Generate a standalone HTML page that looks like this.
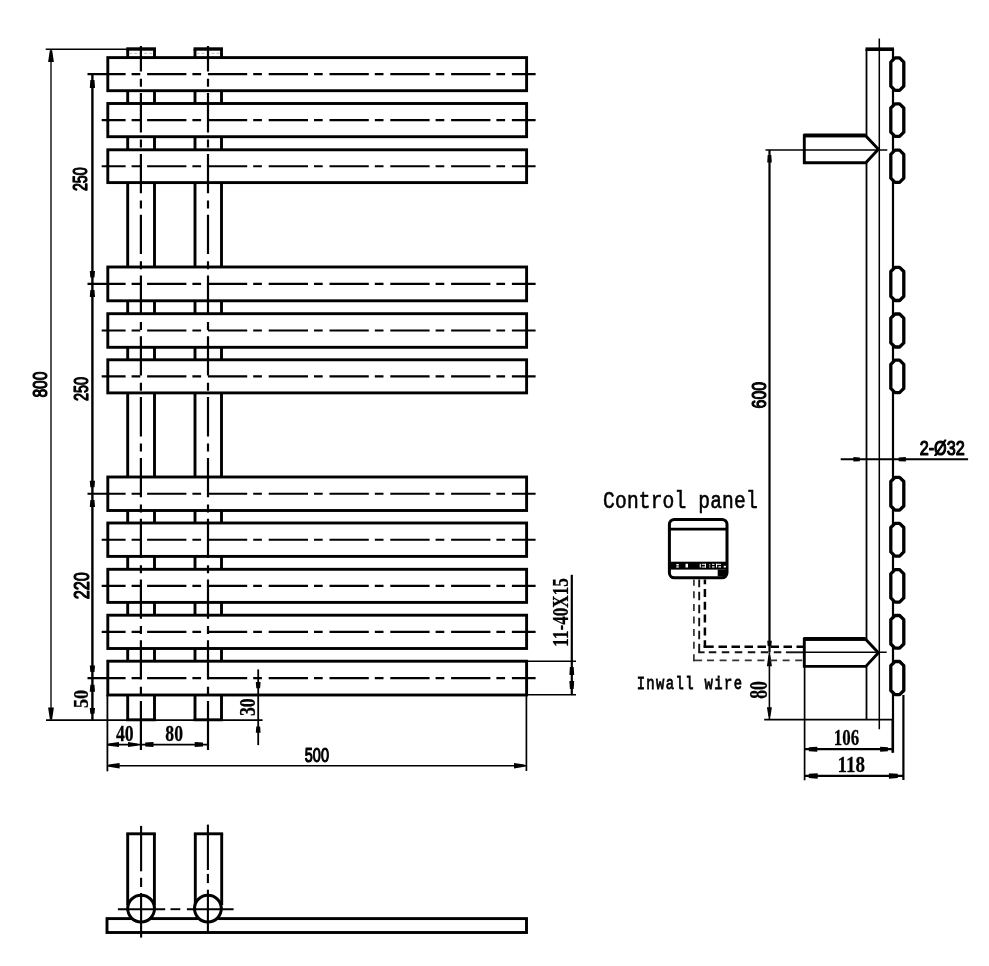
<!DOCTYPE html>
<html><head><meta charset="utf-8"><style>
html,body{margin:0;padding:0;background:#fff;}
svg{display:block;will-change:transform;}
</style></head><body>
<svg width="989" height="966" viewBox="0 0 989 966">
<rect width="989" height="966" fill="#fff"/>
<line x1="127.70" y1="49.00" x2="127.70" y2="57.60" stroke="#000" stroke-width="2.9" stroke-linecap="butt"/>
<line x1="154.50" y1="49.00" x2="154.50" y2="57.60" stroke="#000" stroke-width="2.9" stroke-linecap="butt"/>
<line x1="127.70" y1="90.70" x2="127.70" y2="103.50" stroke="#000" stroke-width="2.9" stroke-linecap="butt"/>
<line x1="154.50" y1="90.70" x2="154.50" y2="103.50" stroke="#000" stroke-width="2.9" stroke-linecap="butt"/>
<line x1="127.70" y1="136.70" x2="127.70" y2="149.80" stroke="#000" stroke-width="2.9" stroke-linecap="butt"/>
<line x1="154.50" y1="136.70" x2="154.50" y2="149.80" stroke="#000" stroke-width="2.9" stroke-linecap="butt"/>
<line x1="127.70" y1="182.60" x2="127.70" y2="267.00" stroke="#000" stroke-width="2.9" stroke-linecap="butt"/>
<line x1="154.50" y1="182.60" x2="154.50" y2="267.00" stroke="#000" stroke-width="2.9" stroke-linecap="butt"/>
<line x1="127.70" y1="300.80" x2="127.70" y2="313.70" stroke="#000" stroke-width="2.9" stroke-linecap="butt"/>
<line x1="154.50" y1="300.80" x2="154.50" y2="313.70" stroke="#000" stroke-width="2.9" stroke-linecap="butt"/>
<line x1="127.70" y1="347.30" x2="127.70" y2="359.80" stroke="#000" stroke-width="2.9" stroke-linecap="butt"/>
<line x1="154.50" y1="347.30" x2="154.50" y2="359.80" stroke="#000" stroke-width="2.9" stroke-linecap="butt"/>
<line x1="127.70" y1="392.90" x2="127.70" y2="477.00" stroke="#000" stroke-width="2.9" stroke-linecap="butt"/>
<line x1="154.50" y1="392.90" x2="154.50" y2="477.00" stroke="#000" stroke-width="2.9" stroke-linecap="butt"/>
<line x1="127.70" y1="510.50" x2="127.70" y2="523.00" stroke="#000" stroke-width="2.9" stroke-linecap="butt"/>
<line x1="154.50" y1="510.50" x2="154.50" y2="523.00" stroke="#000" stroke-width="2.9" stroke-linecap="butt"/>
<line x1="127.70" y1="556.40" x2="127.70" y2="569.30" stroke="#000" stroke-width="2.9" stroke-linecap="butt"/>
<line x1="154.50" y1="556.40" x2="154.50" y2="569.30" stroke="#000" stroke-width="2.9" stroke-linecap="butt"/>
<line x1="127.70" y1="602.40" x2="127.70" y2="615.20" stroke="#000" stroke-width="2.9" stroke-linecap="butt"/>
<line x1="154.50" y1="602.40" x2="154.50" y2="615.20" stroke="#000" stroke-width="2.9" stroke-linecap="butt"/>
<line x1="127.70" y1="648.50" x2="127.70" y2="661.20" stroke="#000" stroke-width="2.9" stroke-linecap="butt"/>
<line x1="154.50" y1="648.50" x2="154.50" y2="661.20" stroke="#000" stroke-width="2.9" stroke-linecap="butt"/>
<line x1="127.70" y1="695.00" x2="127.70" y2="719.80" stroke="#000" stroke-width="2.9" stroke-linecap="butt"/>
<line x1="154.50" y1="695.00" x2="154.50" y2="719.80" stroke="#000" stroke-width="2.9" stroke-linecap="butt"/>
<line x1="126.25" y1="49.00" x2="155.95" y2="49.00" stroke="#000" stroke-width="3.4" stroke-linecap="butt"/>
<line x1="129.20" y1="53.30" x2="153.00" y2="53.30" stroke="#bbb" stroke-width="1.0" stroke-linecap="butt" stroke-dasharray="3 2" stroke-dashoffset="0.00"/>
<line x1="126.25" y1="719.80" x2="155.95" y2="719.80" stroke="#000" stroke-width="2.9" stroke-linecap="butt"/>
<line x1="195.00" y1="49.00" x2="195.00" y2="57.60" stroke="#000" stroke-width="2.9" stroke-linecap="butt"/>
<line x1="221.50" y1="49.00" x2="221.50" y2="57.60" stroke="#000" stroke-width="2.9" stroke-linecap="butt"/>
<line x1="195.00" y1="90.70" x2="195.00" y2="103.50" stroke="#000" stroke-width="2.9" stroke-linecap="butt"/>
<line x1="221.50" y1="90.70" x2="221.50" y2="103.50" stroke="#000" stroke-width="2.9" stroke-linecap="butt"/>
<line x1="195.00" y1="136.70" x2="195.00" y2="149.80" stroke="#000" stroke-width="2.9" stroke-linecap="butt"/>
<line x1="221.50" y1="136.70" x2="221.50" y2="149.80" stroke="#000" stroke-width="2.9" stroke-linecap="butt"/>
<line x1="195.00" y1="182.60" x2="195.00" y2="267.00" stroke="#000" stroke-width="2.9" stroke-linecap="butt"/>
<line x1="221.50" y1="182.60" x2="221.50" y2="267.00" stroke="#000" stroke-width="2.9" stroke-linecap="butt"/>
<line x1="195.00" y1="300.80" x2="195.00" y2="313.70" stroke="#000" stroke-width="2.9" stroke-linecap="butt"/>
<line x1="221.50" y1="300.80" x2="221.50" y2="313.70" stroke="#000" stroke-width="2.9" stroke-linecap="butt"/>
<line x1="195.00" y1="347.30" x2="195.00" y2="359.80" stroke="#000" stroke-width="2.9" stroke-linecap="butt"/>
<line x1="221.50" y1="347.30" x2="221.50" y2="359.80" stroke="#000" stroke-width="2.9" stroke-linecap="butt"/>
<line x1="195.00" y1="392.90" x2="195.00" y2="477.00" stroke="#000" stroke-width="2.9" stroke-linecap="butt"/>
<line x1="221.50" y1="392.90" x2="221.50" y2="477.00" stroke="#000" stroke-width="2.9" stroke-linecap="butt"/>
<line x1="195.00" y1="510.50" x2="195.00" y2="523.00" stroke="#000" stroke-width="2.9" stroke-linecap="butt"/>
<line x1="221.50" y1="510.50" x2="221.50" y2="523.00" stroke="#000" stroke-width="2.9" stroke-linecap="butt"/>
<line x1="195.00" y1="556.40" x2="195.00" y2="569.30" stroke="#000" stroke-width="2.9" stroke-linecap="butt"/>
<line x1="221.50" y1="556.40" x2="221.50" y2="569.30" stroke="#000" stroke-width="2.9" stroke-linecap="butt"/>
<line x1="195.00" y1="602.40" x2="195.00" y2="615.20" stroke="#000" stroke-width="2.9" stroke-linecap="butt"/>
<line x1="221.50" y1="602.40" x2="221.50" y2="615.20" stroke="#000" stroke-width="2.9" stroke-linecap="butt"/>
<line x1="195.00" y1="648.50" x2="195.00" y2="661.20" stroke="#000" stroke-width="2.9" stroke-linecap="butt"/>
<line x1="221.50" y1="648.50" x2="221.50" y2="661.20" stroke="#000" stroke-width="2.9" stroke-linecap="butt"/>
<line x1="195.00" y1="695.00" x2="195.00" y2="719.80" stroke="#000" stroke-width="2.9" stroke-linecap="butt"/>
<line x1="221.50" y1="695.00" x2="221.50" y2="719.80" stroke="#000" stroke-width="2.9" stroke-linecap="butt"/>
<line x1="193.55" y1="49.00" x2="222.95" y2="49.00" stroke="#000" stroke-width="3.4" stroke-linecap="butt"/>
<line x1="196.50" y1="53.30" x2="220.00" y2="53.30" stroke="#bbb" stroke-width="1.0" stroke-linecap="butt" stroke-dasharray="3 2" stroke-dashoffset="0.00"/>
<line x1="193.55" y1="719.80" x2="222.95" y2="719.80" stroke="#000" stroke-width="2.9" stroke-linecap="butt"/>
<rect x="107.80" y="57.60" width="418.80" height="33.10" fill="#fff" stroke="#000" stroke-width="2.9"/>
<rect x="107.80" y="103.50" width="418.80" height="33.20" fill="#fff" stroke="#000" stroke-width="2.9"/>
<rect x="107.80" y="149.80" width="418.80" height="32.80" fill="#fff" stroke="#000" stroke-width="2.9"/>
<rect x="107.80" y="267.00" width="418.80" height="33.80" fill="#fff" stroke="#000" stroke-width="2.9"/>
<rect x="107.80" y="313.70" width="418.80" height="33.60" fill="#fff" stroke="#000" stroke-width="2.9"/>
<rect x="107.80" y="359.80" width="418.80" height="33.10" fill="#fff" stroke="#000" stroke-width="2.9"/>
<rect x="107.80" y="477.00" width="418.80" height="33.50" fill="#fff" stroke="#000" stroke-width="2.9"/>
<rect x="107.80" y="523.00" width="418.80" height="33.40" fill="#fff" stroke="#000" stroke-width="2.9"/>
<rect x="107.80" y="569.30" width="418.80" height="33.10" fill="#fff" stroke="#000" stroke-width="2.9"/>
<rect x="107.80" y="615.20" width="418.80" height="33.30" fill="#fff" stroke="#000" stroke-width="2.9"/>
<rect x="107.80" y="661.20" width="418.80" height="33.80" fill="#fff" stroke="#000" stroke-width="2.9"/>
<line x1="87.50" y1="74.15" x2="535.60" y2="74.15" stroke="#000" stroke-width="2.1" stroke-linecap="butt" stroke-dasharray="39.3 6 8.7 6.8" stroke-dashoffset="1.20"/>
<line x1="101.70" y1="120.10" x2="535.60" y2="120.10" stroke="#000" stroke-width="2.1" stroke-linecap="butt" stroke-dasharray="39.3 6 8.7 6.8" stroke-dashoffset="15.40"/>
<line x1="101.70" y1="166.20" x2="535.60" y2="166.20" stroke="#000" stroke-width="2.1" stroke-linecap="butt" stroke-dasharray="39.3 6 8.7 6.8" stroke-dashoffset="15.40"/>
<line x1="87.50" y1="283.90" x2="535.60" y2="283.90" stroke="#000" stroke-width="2.1" stroke-linecap="butt" stroke-dasharray="39.3 6 8.7 6.8" stroke-dashoffset="1.20"/>
<line x1="101.70" y1="330.50" x2="535.60" y2="330.50" stroke="#000" stroke-width="2.1" stroke-linecap="butt" stroke-dasharray="39.3 6 8.7 6.8" stroke-dashoffset="15.40"/>
<line x1="101.70" y1="376.35" x2="535.60" y2="376.35" stroke="#000" stroke-width="2.1" stroke-linecap="butt" stroke-dasharray="39.3 6 8.7 6.8" stroke-dashoffset="15.40"/>
<line x1="87.50" y1="493.75" x2="535.60" y2="493.75" stroke="#000" stroke-width="2.1" stroke-linecap="butt" stroke-dasharray="39.3 6 8.7 6.8" stroke-dashoffset="1.20"/>
<line x1="101.70" y1="539.70" x2="535.60" y2="539.70" stroke="#000" stroke-width="2.1" stroke-linecap="butt" stroke-dasharray="39.3 6 8.7 6.8" stroke-dashoffset="15.40"/>
<line x1="101.70" y1="585.85" x2="535.60" y2="585.85" stroke="#000" stroke-width="2.1" stroke-linecap="butt" stroke-dasharray="39.3 6 8.7 6.8" stroke-dashoffset="15.40"/>
<line x1="101.70" y1="631.85" x2="535.60" y2="631.85" stroke="#000" stroke-width="2.1" stroke-linecap="butt" stroke-dasharray="39.3 6 8.7 6.8" stroke-dashoffset="15.40"/>
<line x1="87.50" y1="678.10" x2="535.60" y2="678.10" stroke="#000" stroke-width="2.1" stroke-linecap="butt" stroke-dasharray="39.3 6 8.7 6.8" stroke-dashoffset="1.20"/>
<line x1="140.90" y1="46.00" x2="140.90" y2="702.00" stroke="#000" stroke-width="2.2" stroke-linecap="butt" stroke-dasharray="39.3 7.2 8 6.3" stroke-dashoffset="13.70"/>
<line x1="140.90" y1="702.00" x2="140.90" y2="750.00" stroke="#000" stroke-width="2.2" stroke-linecap="butt"/>
<line x1="208.00" y1="46.00" x2="208.00" y2="702.00" stroke="#000" stroke-width="2.2" stroke-linecap="butt" stroke-dasharray="39.3 7.2 8 6.3" stroke-dashoffset="13.70"/>
<line x1="208.00" y1="702.00" x2="208.00" y2="750.00" stroke="#000" stroke-width="2.2" stroke-linecap="butt"/>
<line x1="45.70" y1="49.20" x2="127.70" y2="49.20" stroke="#000" stroke-width="1.45" stroke-linecap="butt"/>
<line x1="46.00" y1="720.10" x2="262.60" y2="720.10" stroke="#000" stroke-width="1.7" stroke-linecap="butt"/>
<line x1="51.00" y1="49.20" x2="51.00" y2="720.10" stroke="#000" stroke-width="1.35" stroke-linecap="butt"/>
<polygon points="49.80,50.40 52.20,50.40 53.90,61.90 48.10,61.90" fill="#000"/>
<polygon points="49.80,718.90 52.20,718.90 53.90,707.40 48.10,707.40" fill="#000"/>
<text transform="translate(39.90,384.60) rotate(-90) scale(0.768,1)" x="-16.94" y="7.00" font-family="Liberation Sans, sans-serif" font-weight="400" font-size="20.28" stroke="#000" stroke-width="1.20" stroke-linejoin="round">800</text>
<line x1="92.40" y1="73.70" x2="92.40" y2="720.10" stroke="#000" stroke-width="2.4" stroke-linecap="butt"/>
<polygon points="90.32,80.10 94.48,80.10 95.00,87.90 89.80,87.90" fill="#000"/>
<polygon points="90.32,277.40 94.48,277.40 95.00,270.90 89.80,270.90" fill="#000"/>
<polygon points="90.32,290.00 94.48,290.00 95.00,297.00 89.80,297.00" fill="#000"/>
<polygon points="90.32,487.30 94.48,487.30 95.00,480.80 89.80,480.80" fill="#000"/>
<polygon points="90.32,499.90 94.48,499.90 95.00,506.90 89.80,506.90" fill="#000"/>
<polygon points="90.32,672.10 94.48,672.10 95.00,665.60 89.80,665.60" fill="#000"/>
<polygon points="90.32,684.70 94.48,684.70 95.00,691.70 89.80,691.70" fill="#000"/>
<polygon points="90.32,713.80 94.48,713.80 95.00,707.90 89.80,707.90" fill="#000"/>
<text transform="translate(80.25,179.10) rotate(-90) scale(0.744,1)" x="-16.16" y="6.66" font-family="Liberation Sans, sans-serif" font-weight="400" font-size="19.30" stroke="#000" stroke-width="1.20" stroke-linejoin="round">250</text>
<text transform="translate(80.45,389.00) rotate(-90) scale(0.699,1)" x="-17.34" y="7.14" font-family="Liberation Sans, sans-serif" font-weight="400" font-size="20.70" stroke="#000" stroke-width="1.20" stroke-linejoin="round">250</text>
<text transform="translate(81.35,585.60) rotate(-90) scale(0.745,1)" x="-18.28" y="7.53" font-family="Liberation Sans, sans-serif" font-weight="400" font-size="21.83" stroke="#000" stroke-width="1.20" stroke-linejoin="round">220</text>
<text transform="translate(81.05,699.00) rotate(-90) scale(0.887,1)" x="-10.26" y="6.72" font-family="Liberation Serif, sans-serif" font-weight="700" font-size="20.52" stroke="#000" stroke-width="0.25" stroke-linejoin="round">50</text>
<line x1="107.40" y1="695.00" x2="107.40" y2="771.30" stroke="#000" stroke-width="1.8" stroke-linecap="butt"/>
<line x1="526.40" y1="695.00" x2="526.40" y2="771.00" stroke="#000" stroke-width="1.7" stroke-linecap="butt"/>
<line x1="107.40" y1="744.60" x2="208.00" y2="744.60" stroke="#000" stroke-width="1.8" stroke-linecap="butt"/>
<polygon points="108.50,743.50 108.50,745.70 119.00,747.10 119.00,742.10" fill="#000"/>
<polygon points="137.50,743.50 137.50,745.70 128.00,747.10 128.00,742.10" fill="#000"/>
<polygon points="145.20,742.60 145.20,746.60 153.50,747.10 153.50,742.10" fill="#000"/>
<polygon points="203.00,742.60 203.00,746.60 194.70,747.10 194.70,742.10" fill="#000"/>
<text transform="translate(124.60,733.75) rotate(0) scale(0.795,1)" x="-10.87" y="7.30" font-family="Liberation Serif, sans-serif" font-weight="700" font-size="22.30" stroke="#000" stroke-width="0.25" stroke-linejoin="round">40</text>
<text transform="translate(174.10,733.75) rotate(0) scale(0.793,1)" x="-11.09" y="7.30" font-family="Liberation Serif, sans-serif" font-weight="700" font-size="22.30" stroke="#000" stroke-width="0.25" stroke-linejoin="round">80</text>
<line x1="107.40" y1="765.70" x2="526.40" y2="765.70" stroke="#000" stroke-width="1.6" stroke-linecap="butt"/>
<polygon points="108.60,764.60 108.60,766.80 119.60,768.45 119.60,762.95" fill="#000"/>
<polygon points="524.50,764.60 524.50,766.80 514.00,768.45 514.00,762.95" fill="#000"/>
<text transform="translate(316.85,754.75) rotate(0) scale(0.698,1)" x="-17.24" y="7.14" font-family="Liberation Sans, sans-serif" font-weight="400" font-size="20.70" stroke="#000" stroke-width="1.20" stroke-linejoin="round">500</text>
<line x1="258.20" y1="669.40" x2="258.20" y2="745.10" stroke="#000" stroke-width="1.8" stroke-linecap="butt"/>
<polygon points="256.28,688.20 260.12,688.20 260.60,681.90 255.80,681.90" fill="#000"/>
<polygon points="256.28,726.40 260.12,726.40 260.60,732.70 255.80,732.70" fill="#000"/>
<text transform="translate(247.20,707.25) rotate(-90) scale(0.757,1)" x="-11.67" y="7.64" font-family="Liberation Serif, sans-serif" font-weight="700" font-size="23.33" stroke="#000" stroke-width="0.25" stroke-linejoin="round">30</text>
<line x1="526.60" y1="661.20" x2="576.00" y2="661.20" stroke="#000" stroke-width="1.6" stroke-linecap="butt"/>
<line x1="526.60" y1="694.80" x2="576.00" y2="694.80" stroke="#000" stroke-width="1.6" stroke-linecap="butt"/>
<line x1="571.80" y1="574.80" x2="571.80" y2="695.10" stroke="#000" stroke-width="2.2" stroke-linecap="butt"/>
<polygon points="569.88,667.10 573.72,667.10 574.20,674.90 569.40,674.90" fill="#000"/>
<polygon points="569.88,688.90 573.72,688.90 574.20,681.10 569.40,681.10" fill="#000"/>
<text transform="translate(560.55,612.00) rotate(-90) scale(0.758,1)" x="-45.69" y="7.40" font-family="Liberation Serif, sans-serif" font-weight="700" font-size="22.59" stroke="#000" stroke-width="0.25" stroke-linejoin="round">11-40X15</text>
<rect x="107.00" y="918.60" width="419.50" height="13.90" fill="none" stroke="#000" stroke-width="2.9"/>
<line x1="127.70" y1="833.80" x2="127.70" y2="905.00" stroke="#000" stroke-width="2.9" stroke-linecap="butt"/>
<line x1="154.40" y1="833.80" x2="154.40" y2="905.00" stroke="#000" stroke-width="2.9" stroke-linecap="butt"/>
<line x1="126.25" y1="833.80" x2="155.85" y2="833.80" stroke="#000" stroke-width="2.9" stroke-linecap="butt"/>
<circle cx="141.1" cy="908.6" r="13.4" fill="#fff" stroke="#000" stroke-width="3"/>
<line x1="195.30" y1="833.80" x2="195.30" y2="905.00" stroke="#000" stroke-width="2.9" stroke-linecap="butt"/>
<line x1="221.70" y1="833.80" x2="221.70" y2="905.00" stroke="#000" stroke-width="2.9" stroke-linecap="butt"/>
<line x1="193.85" y1="833.80" x2="223.15" y2="833.80" stroke="#000" stroke-width="2.9" stroke-linecap="butt"/>
<circle cx="207.9" cy="908.6" r="13.4" fill="#fff" stroke="#000" stroke-width="3"/>
<line x1="141.10" y1="825.90" x2="141.10" y2="871.30" stroke="#000" stroke-width="2.1" stroke-linecap="butt"/>
<line x1="141.10" y1="877.80" x2="141.10" y2="887.00" stroke="#000" stroke-width="2.1" stroke-linecap="butt"/>
<line x1="141.10" y1="893.00" x2="141.10" y2="937.60" stroke="#000" stroke-width="2.1" stroke-linecap="butt"/>
<line x1="207.90" y1="824.60" x2="207.90" y2="870.00" stroke="#000" stroke-width="2.1" stroke-linecap="butt"/>
<line x1="207.90" y1="873.90" x2="207.90" y2="883.10" stroke="#000" stroke-width="2.1" stroke-linecap="butt"/>
<line x1="207.90" y1="889.70" x2="207.90" y2="932.50" stroke="#000" stroke-width="2.1" stroke-linecap="butt"/>
<line x1="117.90" y1="909.20" x2="165.20" y2="909.20" stroke="#000" stroke-width="1.9" stroke-linecap="butt"/>
<line x1="170.50" y1="909.20" x2="180.30" y2="909.20" stroke="#000" stroke-width="1.9" stroke-linecap="butt"/>
<line x1="186.90" y1="909.20" x2="233.60" y2="909.20" stroke="#000" stroke-width="1.9" stroke-linecap="butt"/>
<line x1="866.50" y1="49.00" x2="866.50" y2="719.50" stroke="#000" stroke-width="1.8" stroke-linecap="butt"/>
<line x1="879.30" y1="38.40" x2="879.30" y2="729.20" stroke="#000" stroke-width="1.5" stroke-linecap="butt"/>
<line x1="893.00" y1="49.00" x2="893.00" y2="752.60" stroke="#000" stroke-width="2.2" stroke-linecap="butt"/>
<line x1="865.50" y1="49.20" x2="894.00" y2="49.20" stroke="#000" stroke-width="3.6" stroke-linecap="butt"/>
<line x1="764.20" y1="719.60" x2="893.00" y2="719.60" stroke="#000" stroke-width="1.8" stroke-linecap="butt"/>
<polygon points="890.80,62.10 895.00,57.90 899.60,57.90 903.80,62.10 903.80,86.20 899.60,90.40 895.00,90.40 890.80,86.20" fill="#fff" stroke="#000" stroke-width="3.3" stroke-linejoin="round"/>
<polygon points="890.80,108.00 895.00,103.80 899.60,103.80 903.80,108.00 903.80,132.20 899.60,136.40 895.00,136.40 890.80,132.20" fill="#fff" stroke="#000" stroke-width="3.3" stroke-linejoin="round"/>
<polygon points="890.80,154.30 895.00,150.10 899.60,150.10 903.80,154.30 903.80,178.10 899.60,182.30 895.00,182.30 890.80,178.10" fill="#fff" stroke="#000" stroke-width="3.3" stroke-linejoin="round"/>
<polygon points="890.80,271.50 895.00,267.30 899.60,267.30 903.80,271.50 903.80,296.30 899.60,300.50 895.00,300.50 890.80,296.30" fill="#fff" stroke="#000" stroke-width="3.3" stroke-linejoin="round"/>
<polygon points="890.80,318.20 895.00,314.00 899.60,314.00 903.80,318.20 903.80,342.80 899.60,347.00 895.00,347.00 890.80,342.80" fill="#fff" stroke="#000" stroke-width="3.3" stroke-linejoin="round"/>
<polygon points="890.80,364.30 895.00,360.10 899.60,360.10 903.80,364.30 903.80,388.40 899.60,392.60 895.00,392.60 890.80,388.40" fill="#fff" stroke="#000" stroke-width="3.3" stroke-linejoin="round"/>
<polygon points="890.80,481.50 895.00,477.30 899.60,477.30 903.80,481.50 903.80,506.00 899.60,510.20 895.00,510.20 890.80,506.00" fill="#fff" stroke="#000" stroke-width="3.3" stroke-linejoin="round"/>
<polygon points="890.80,527.50 895.00,523.30 899.60,523.30 903.80,527.50 903.80,551.90 899.60,556.10 895.00,556.10 890.80,551.90" fill="#fff" stroke="#000" stroke-width="3.3" stroke-linejoin="round"/>
<polygon points="890.80,573.80 895.00,569.60 899.60,569.60 903.80,573.80 903.80,597.90 899.60,602.10 895.00,602.10 890.80,597.90" fill="#fff" stroke="#000" stroke-width="3.3" stroke-linejoin="round"/>
<polygon points="890.80,619.70 895.00,615.50 899.60,615.50 903.80,619.70 903.80,644.00 899.60,648.20 895.00,648.20 890.80,644.00" fill="#fff" stroke="#000" stroke-width="3.3" stroke-linejoin="round"/>
<polygon points="890.80,665.70 895.00,661.50 899.60,661.50 903.80,665.70 903.80,690.50 899.60,694.70 895.00,694.70 890.80,690.50" fill="#fff" stroke="#000" stroke-width="3.3" stroke-linejoin="round"/>
<polygon points="804.30,135.80 865.60,135.80 878.40,149.30 865.80,162.80 804.30,162.80" fill="#fff" stroke="#000" stroke-width="2.9" stroke-linejoin="miter"/>
<line x1="803.50" y1="135.40" x2="865.60" y2="135.40" stroke="#000" stroke-width="3.6" stroke-linecap="butt"/>
<polygon points="804.30,639.30 865.60,639.30 878.40,652.85 865.80,666.40 804.30,666.40" fill="#fff" stroke="#000" stroke-width="2.9" stroke-linejoin="miter"/>
<line x1="803.50" y1="638.90" x2="865.60" y2="638.90" stroke="#000" stroke-width="3.6" stroke-linecap="butt"/>
<line x1="765.50" y1="150.00" x2="887.30" y2="150.00" stroke="#000" stroke-width="1.5" stroke-linecap="butt"/>
<line x1="803.00" y1="652.30" x2="886.70" y2="652.30" stroke="#000" stroke-width="1.5" stroke-linecap="butt"/>
<line x1="769.50" y1="150.00" x2="769.50" y2="652.30" stroke="#000" stroke-width="2.2" stroke-linecap="butt"/>
<line x1="769.40" y1="652.30" x2="769.40" y2="719.60" stroke="#000" stroke-width="1.6" stroke-linecap="butt"/>
<polygon points="767.66,155.10 771.34,155.10 771.80,162.60 767.20,162.60" fill="#000"/>
<polygon points="767.66,646.00 771.34,646.00 771.80,640.70 767.20,640.70" fill="#000"/>
<polygon points="768.40,655.30 770.40,655.30 771.90,666.30 766.90,666.30" fill="#000"/>
<polygon points="768.40,716.60 770.40,716.60 771.90,707.30 766.90,707.30" fill="#000"/>
<text transform="translate(758.95,395.10) rotate(-90) scale(0.794,1)" x="-16.87" y="6.95" font-family="Liberation Sans, sans-serif" font-weight="400" font-size="20.14" stroke="#000" stroke-width="1.20" stroke-linejoin="round">600</text>
<text transform="translate(758.50,689.95) rotate(-90) scale(0.725,1)" x="-12.20" y="8.03" font-family="Liberation Serif, sans-serif" font-weight="700" font-size="24.52" stroke="#000" stroke-width="0.25" stroke-linejoin="round">80</text>
<line x1="804.60" y1="667.00" x2="804.60" y2="780.30" stroke="#000" stroke-width="1.7" stroke-linecap="butt"/>
<line x1="903.40" y1="695.00" x2="903.40" y2="780.00" stroke="#000" stroke-width="2.2" stroke-linecap="butt"/>
<line x1="892.60" y1="719.00" x2="892.60" y2="752.80" stroke="#000" stroke-width="2.2" stroke-linecap="butt"/>
<line x1="804.60" y1="749.20" x2="892.60" y2="749.20" stroke="#000" stroke-width="2.2" stroke-linecap="butt"/>
<polygon points="808.80,747.20 808.80,751.20 817.30,751.70 817.30,746.70" fill="#000"/>
<polygon points="887.90,747.20 887.90,751.20 880.10,751.70 880.10,746.70" fill="#000"/>
<line x1="804.60" y1="775.90" x2="903.40" y2="775.90" stroke="#000" stroke-width="2.4" stroke-linecap="butt"/>
<polygon points="808.80,773.70 808.80,778.10 817.70,778.65 817.70,773.15" fill="#000"/>
<polygon points="897.80,773.70 897.80,778.10 888.90,778.65 888.90,773.15" fill="#000"/>
<text transform="translate(846.90,737.55) rotate(0) scale(0.750,1)" x="-17.51" y="7.40" font-family="Liberation Serif, sans-serif" font-weight="700" font-size="22.59" stroke="#000" stroke-width="0.25" stroke-linejoin="round">106</text>
<text transform="translate(851.70,764.50) rotate(0) scale(0.838,1)" x="-16.94" y="7.45" font-family="Liberation Serif, sans-serif" font-weight="700" font-size="22.74" stroke="#000" stroke-width="0.25" stroke-linejoin="round">118</text>
<line x1="840.70" y1="459.30" x2="968.10" y2="459.30" stroke="#000" stroke-width="1.9" stroke-linecap="butt"/>
<polygon points="859.80,457.46 859.80,461.14 853.40,461.60 853.40,457.00" fill="#000"/>
<polygon points="898.70,457.46 898.70,461.14 905.80,461.60 905.80,457.00" fill="#000"/>
<text transform="translate(942.20,448.40) rotate(0) scale(0.838,1)" x="-26.87" y="6.72" font-family="Liberation Sans, sans-serif" font-weight="400" font-size="19.33" stroke="#000" stroke-width="1.20" stroke-linejoin="round">2-Ø32</text>
<rect x="669.4" y="519.4" width="57.6" height="58.4" rx="5" fill="#fff" stroke="#000" stroke-width="3"/>
<line x1="669.40" y1="529.10" x2="727.00" y2="529.10" stroke="#000" stroke-width="2.8" stroke-linecap="butt"/>
<rect x="669.40" y="561.70" width="57.60" height="7.90" fill="#000"/>
<rect x="717.70" y="569.50" width="8.30" height="7.00" fill="#000"/>
<rect x="676.30" y="564.00" width="2.50" height="1.50" fill="#fff"/>
<rect x="676.30" y="566.30" width="2.50" height="1.30" fill="#fff"/>
<rect x="685.50" y="563.80" width="2.50" height="3.70" fill="#fff"/>
<rect x="699.70" y="563.80" width="1.10" height="3.70" fill="#fff"/>
<rect x="701.80" y="563.80" width="4.20" height="1.00" fill="#fff"/>
<rect x="701.80" y="566.50" width="4.20" height="1.00" fill="#fff"/>
<rect x="704.90" y="563.80" width="1.10" height="3.70" fill="#fff"/>
<rect x="709.20" y="564.20" width="1.10" height="1.20" fill="#fff"/>
<rect x="709.20" y="566.50" width="1.10" height="1.00" fill="#fff"/>
<rect x="712.00" y="563.80" width="2.50" height="1.00" fill="#fff"/>
<rect x="712.00" y="566.30" width="2.50" height="1.20" fill="#fff"/>
<rect x="716.00" y="563.80" width="5.00" height="1.00" fill="#fff"/>
<rect x="716.00" y="563.80" width="1.10" height="3.70" fill="#fff"/>
<rect x="718.40" y="566.20" width="2.60" height="1.30" fill="#fff"/>
<rect x="723.70" y="565.80" width="2.20" height="1.70" fill="#fff"/>
<line x1="704.90" y1="579.50" x2="704.90" y2="647.50" stroke="#000" stroke-width="2.5" stroke-linecap="butt" stroke-dasharray="8 4.8" stroke-dashoffset="3.30"/>
<line x1="703.65" y1="646.70" x2="713.70" y2="646.70" stroke="#000" stroke-width="2.5" stroke-linecap="butt"/>
<line x1="718.50" y1="646.70" x2="803.00" y2="646.70" stroke="#000" stroke-width="2.5" stroke-linecap="butt" stroke-dasharray="8.5 4.5" stroke-dashoffset="0.00"/>
<line x1="699.20" y1="579.50" x2="699.20" y2="653.20" stroke="#111" stroke-width="1.9" stroke-linecap="butt" stroke-dasharray="8.5 4.5" stroke-dashoffset="0.80"/>
<line x1="698.25" y1="652.30" x2="704.60" y2="652.30" stroke="#111" stroke-width="1.9" stroke-linecap="butt"/>
<line x1="708.80" y1="652.30" x2="785.90" y2="652.30" stroke="#111" stroke-width="1.9" stroke-linecap="butt" stroke-dasharray="7.5 5.5" stroke-dashoffset="0.00"/>
<line x1="785.90" y1="652.30" x2="803.00" y2="652.30" stroke="#111" stroke-width="1.9" stroke-linecap="butt"/>
<line x1="693.90" y1="579.50" x2="693.90" y2="661.20" stroke="#333" stroke-width="1.7" stroke-linecap="butt" stroke-dasharray="7 5.6" stroke-dashoffset="0.80"/>
<line x1="693.05" y1="660.40" x2="702.10" y2="660.40" stroke="#333" stroke-width="1.7" stroke-linecap="butt"/>
<line x1="707.00" y1="660.40" x2="803.00" y2="660.40" stroke="#333" stroke-width="1.7" stroke-linecap="butt" stroke-dasharray="7 5.6" stroke-dashoffset="0.00"/>
<text transform="translate(609.00,507.60) scale(0.8,1)" text-anchor="middle" font-family="Liberation Mono, monospace" font-size="24.5" font-weight="400" stroke="#000" stroke-width="0.6">C</text>
<text transform="translate(620.90,507.60) scale(0.8,1)" text-anchor="middle" font-family="Liberation Mono, monospace" font-size="24.5" font-weight="400" stroke="#000" stroke-width="0.6">o</text>
<text transform="translate(632.80,507.60) scale(0.8,1)" text-anchor="middle" font-family="Liberation Mono, monospace" font-size="24.5" font-weight="400" stroke="#000" stroke-width="0.6">n</text>
<text transform="translate(644.70,507.60) scale(0.8,1)" text-anchor="middle" font-family="Liberation Mono, monospace" font-size="24.5" font-weight="400" stroke="#000" stroke-width="0.6">t</text>
<text transform="translate(656.60,507.60) scale(0.8,1)" text-anchor="middle" font-family="Liberation Mono, monospace" font-size="24.5" font-weight="400" stroke="#000" stroke-width="0.6">r</text>
<text transform="translate(668.50,507.60) scale(0.8,1)" text-anchor="middle" font-family="Liberation Mono, monospace" font-size="24.5" font-weight="400" stroke="#000" stroke-width="0.6">o</text>
<text transform="translate(680.40,507.60) scale(0.8,1)" text-anchor="middle" font-family="Liberation Mono, monospace" font-size="24.5" font-weight="400" stroke="#000" stroke-width="0.6">l</text>
<text transform="translate(704.20,507.60) scale(0.8,1)" text-anchor="middle" font-family="Liberation Mono, monospace" font-size="24.5" font-weight="400" stroke="#000" stroke-width="0.6">p</text>
<text transform="translate(716.10,507.60) scale(0.8,1)" text-anchor="middle" font-family="Liberation Mono, monospace" font-size="24.5" font-weight="400" stroke="#000" stroke-width="0.6">a</text>
<text transform="translate(728.00,507.60) scale(0.8,1)" text-anchor="middle" font-family="Liberation Mono, monospace" font-size="24.5" font-weight="400" stroke="#000" stroke-width="0.6">n</text>
<text transform="translate(739.90,507.60) scale(0.8,1)" text-anchor="middle" font-family="Liberation Mono, monospace" font-size="24.5" font-weight="400" stroke="#000" stroke-width="0.6">e</text>
<text transform="translate(751.80,507.60) scale(0.8,1)" text-anchor="middle" font-family="Liberation Mono, monospace" font-size="24.5" font-weight="400" stroke="#000" stroke-width="0.6">l</text>
<text transform="translate(640.80,688.60) scale(0.74,1)" text-anchor="middle" font-family="Liberation Mono, monospace" font-size="18.8" font-weight="400" stroke="#000" stroke-width="0.8">I</text>
<text transform="translate(650.51,688.60) scale(0.74,1)" text-anchor="middle" font-family="Liberation Mono, monospace" font-size="18.8" font-weight="400" stroke="#000" stroke-width="0.8">n</text>
<text transform="translate(660.22,688.60) scale(0.74,1)" text-anchor="middle" font-family="Liberation Mono, monospace" font-size="18.8" font-weight="400" stroke="#000" stroke-width="0.8">w</text>
<text transform="translate(669.93,688.60) scale(0.74,1)" text-anchor="middle" font-family="Liberation Mono, monospace" font-size="18.8" font-weight="400" stroke="#000" stroke-width="0.8">a</text>
<text transform="translate(679.64,688.60) scale(0.74,1)" text-anchor="middle" font-family="Liberation Mono, monospace" font-size="18.8" font-weight="400" stroke="#000" stroke-width="0.8">l</text>
<text transform="translate(689.35,688.60) scale(0.74,1)" text-anchor="middle" font-family="Liberation Mono, monospace" font-size="18.8" font-weight="400" stroke="#000" stroke-width="0.8">l</text>
<text transform="translate(708.77,688.60) scale(0.74,1)" text-anchor="middle" font-family="Liberation Mono, monospace" font-size="18.8" font-weight="400" stroke="#000" stroke-width="0.8">w</text>
<text transform="translate(718.48,688.60) scale(0.74,1)" text-anchor="middle" font-family="Liberation Mono, monospace" font-size="18.8" font-weight="400" stroke="#000" stroke-width="0.8">i</text>
<text transform="translate(728.19,688.60) scale(0.74,1)" text-anchor="middle" font-family="Liberation Mono, monospace" font-size="18.8" font-weight="400" stroke="#000" stroke-width="0.8">r</text>
<text transform="translate(737.90,688.60) scale(0.74,1)" text-anchor="middle" font-family="Liberation Mono, monospace" font-size="18.8" font-weight="400" stroke="#000" stroke-width="0.8">e</text>
</svg>
</body></html>
